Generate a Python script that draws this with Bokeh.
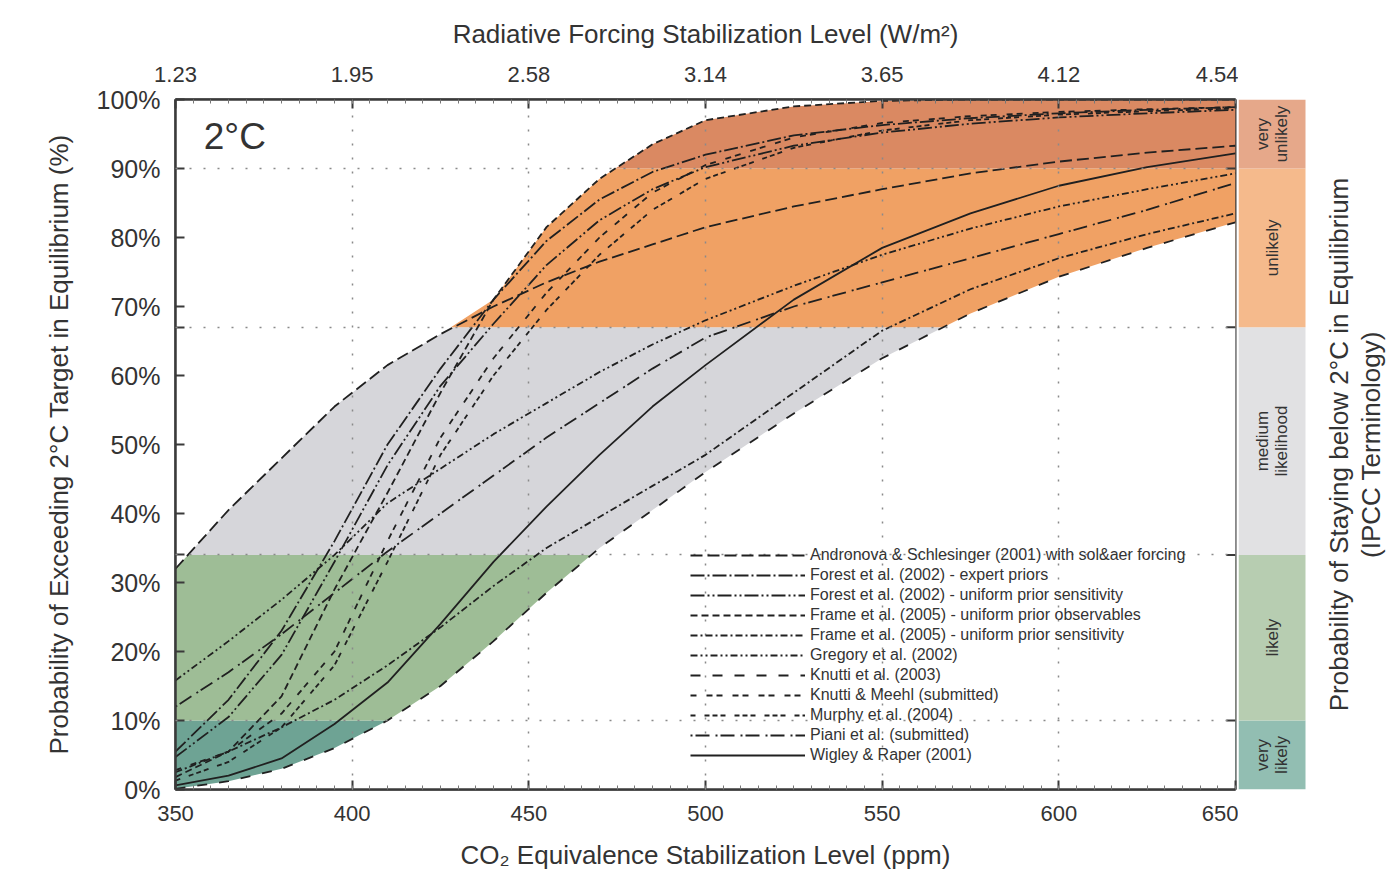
import numpy as np
from bokeh.plotting import figure
from bokeh.models import (Range1d, LinearAxis, FixedTicker, Legend, LegendItem, Label)
from bokeh.layouts import row
from bokeh.embed import file_html
from bokeh.resources import INLINE
from bokeh.core.properties import value

# ---------------- data ----------------
co2_ppm = [350, 365, 380, 395, 410, 425, 440, 455, 470, 485, 500, 525, 550, 575, 600, 625, 650]

andronova_2001 = [32, 40.5, 48, 55.5, 61.5, 66, 70, 73.5, 76.5, 79, 81.5, 84.5, 87, 89.3, 91, 92.3, 93.3]
forest_expert = [5.5, 13, 23, 36, 50, 61, 71, 79.5, 85.5, 89.5, 92, 94.8, 96.3, 97.3, 98, 98.5, 98.9]
forest_uniform = [4.7, 10.5, 19.5, 33, 47, 58.5, 67.5, 76, 82.5, 87, 90.2, 93.3, 95.2, 96.5, 97.4, 98, 98.5]
frame_obs = [1.8, 5.5, 13.5, 29, 43, 57.5, 71, 81.5, 88.5, 93.5, 97, 99, 99.8, 100, 100, 100, 100]
frame_sens = [2.5, 5.5, 9, 13, 18, 23.5, 29.5, 35, 39.5, 44, 48.5, 57.5, 66.5, 72.5, 77, 80.5, 83.5]
gregory_2002 = [15.8, 21.5, 27.5, 34, 41.5, 46.5, 51.5, 56, 60.5, 64.5, 68, 73, 77.5, 81.3, 84.5, 87, 89.3]
knutti_2003 = [0.1, 1.2, 3, 6, 10, 15, 21.5, 28.5, 35, 40.5, 46, 54.5, 62.5, 69, 74.3, 78.5, 82.2]
knutti_meehl = [2.8, 5.5, 11, 20, 36, 51, 62.5, 72, 80, 86.5, 90.5, 94.5, 96.6, 97.6, 98.2, 98.6, 98.9]
murphy_2004 = [1.3, 4, 9, 18, 33, 48.5, 60, 69.5, 77.5, 84, 88.5, 93, 95.5, 97, 97.8, 98.3, 98.7]
piani = [12, 17, 22.5, 28.5, 34.5, 40, 45.5, 51, 56, 61, 65.5, 70, 73.5, 77, 80.5, 84, 87.9]
wigley_2001 = [0.6, 2, 4.5, 9.5, 15.5, 24, 33, 41, 48.5, 55.5, 61.5, 71, 78.5, 83.5, 87.5, 90.2, 92.2]

series_labels = [
    "Andronova & Schlesinger (2001) with sol&aer forcing",
    "Forest et al. (2002) - expert priors",
    "Forest et al. (2002) - uniform prior sensitivity",
    "Frame et al. (2005) - uniform prior observables",
    "Frame et al. (2005) - uniform prior sensitivity",
    "Gregory et al. (2002)",
    "Knutti et al. (2003)",
    "Knutti & Meehl (submitted)",
    "Murphy et al. (2004)",
    "Piani et al. (submitted)",
    "Wigley & Raper (2001)",
]
series_values = [andronova_2001, forest_expert, forest_uniform, frame_obs, frame_sens,
                 gregory_2002, knutti_2003, knutti_meehl, murphy_2004, piani, wigley_2001]

band_lo = [0, 10, 34, 67, 90]
band_hi = [10, 34, 67, 90, 100]
band_names = ["very\nlikely", "likely", "medium\nlikelihood", "unlikely", "very\nunlikely"]

x_ticks = [350, 400, 450, 500, 550, 600, 650]
rf_labels = ["1.23", "1.95", "2.58", "3.14", "3.65", "4.12", "4.54"]
y_ticks = [0, 10, 20, 30, 40, 50, 60, 70, 80, 90, 100]

# ---------------- styles ----------------
dashes = ["12 5", "14 3 2 3", "14 3 2 3 2 3", "7 4", "7 3 2 3", "7 3 2 3 2 3",
          "10 12", "6 10 6 4", "5 9 5 3 5 3", "2 3 14 6", "solid"]
plot_band_colors = ["#6EA394", "#9EBD96", "#D6D6DA", "#F0A164", "#DA8962"]
col_band_colors = ["#92BEB2", "#B7CDB1", "#E1E1E3", "#F5BA8C", "#E6A88A"]
FONT = "Liberation Sans"
TXT = "#333333"
AX = "#3a3a3a"

H = 875
p = figure(width=1238, height=H, x_range=Range1d(350, 650), y_range=Range1d(0, 100),
           toolbar_location=None, output_backend="svg", x_axis_location=None, y_axis_location=None,
           min_border_left=175, min_border_top=99, min_border_bottom=H - 789, min_border_right=3,
           outline_line_color=AX, outline_line_width=2, background_fill_color="white",
           border_fill_color="white")

# bands
p.quad(left=350, right=650, bottom=band_lo, top=band_hi, fill_color=plot_band_colors,
       line_color=None)

# white masks outside the envelope of all curves
arr = np.array(series_values, dtype=float)
upper_env = arr.max(axis=0)
lower_env = arr.min(axis=0)
p.varea(x=co2_ppm, y1=upper_env, y2=100, fill_color="white")
p.varea(x=co2_ppm, y1=0, y2=lower_env, fill_color="white")

items = []
for lab, vals, dsh in zip(series_labels, series_values, dashes):
    r = p.line(co2_ppm, vals, line_color="#202020", line_width=1.8, line_dash=dsh)
    items.append(LegendItem(label=lab, renderers=[r]))

# inward tick marks on the right frame edge at the band boundaries
p.segment(x0=647.4, x1=650, y0=band_hi[:-1], y1=band_hi[:-1], line_color=AX, line_width=2)

legend = Legend(items=items, location=(515, 25), background_fill_alpha=0, border_line_color=None,
                label_text_font=FONT, label_text_font_size="16px", label_text_color=TXT,
                glyph_width=115, glyph_height=18, label_height=18, spacing=2, padding=0, margin=0,
                label_standoff=5)
p.add_layout(legend, "center")

# grid
p.xgrid.ticker = FixedTicker(ticks=[400, 450, 500, 550, 600])
p.ygrid.ticker = FixedTicker(ticks=[10, 34, 67, 90])
for g in (p.xgrid[0], p.ygrid[0]):
    g.grid_line_color = "#8a8a8a"
    g.grid_line_dash = "2 12"
    g.grid_line_width = 1.5
    g.level = "annotation"

def style_axis(ax, size="22px"):
    ax.axis_line_color = AX
    ax.axis_line_width = 2.5
    ax.major_tick_in = 9
    ax.major_tick_out = 0
    ax.major_tick_line_color = AX
    ax.major_tick_line_width = 2
    ax.minor_tick_in = 4
    ax.minor_tick_out = 0
    ax.minor_tick_line_color = "#777777"
    ax.major_label_text_font = FONT
    ax.major_label_text_font_size = size
    ax.major_label_text_color = TXT
    ax.axis_label_text_font = FONT
    ax.axis_label_text_font_size = "26px"
    ax.axis_label_text_font_style = "normal"
    ax.axis_label_text_color = TXT

xb = LinearAxis(ticker=FixedTicker(ticks=x_ticks, minor_ticks=list(range(350, 651, 5))),
                axis_label="CO₂ Equivalence Stabilization Level (ppm)")
style_axis(xb)
xb.major_label_standoff = 16
xb.axis_label_standoff = 16
p.add_layout(xb, "below")

xt = LinearAxis(ticker=FixedTicker(ticks=x_ticks, minor_ticks=list(range(350, 651, 5))),
                axis_label="Radiative Forcing Stabilization Level (W/m²)",
                major_label_overrides={t: l for t, l in zip(x_ticks, rf_labels)})
style_axis(xt)
xt.major_label_standoff = 18
xt.axis_label_standoff = 15
p.add_layout(xt, "above")

yl = LinearAxis(ticker=FixedTicker(ticks=y_ticks, minor_ticks=[34, 67]),
                axis_label="Probability of Exceeding 2°C Target in Equilibrium (%)",
                major_label_overrides={t: f"{t}%" for t in y_ticks})
style_axis(yl, "25px")
yl.minor_tick_in = 9
yl.minor_tick_line_color = AX
yl.minor_tick_line_width = 2
yl.major_label_standoff = 15
yl.axis_label_standoff = 20
p.add_layout(yl, "left")

p.add_layout(Label(x=358, y=94.6, text="2°C", text_font=FONT, text_font_size="37px",
                   text_color=TXT, text_baseline="middle"))

# right-hand likelihood column
BW = 148
bf = figure(width=BW, height=H, x_range=Range1d(0, BW), y_range=p.y_range,
            toolbar_location=None, output_backend="svg", min_border=0,
            min_border_top=99, min_border_bottom=H - 789, outline_line_color=None,
            background_fill_color="white", border_fill_color="white")
bf.axis.visible = False
bf.grid.visible = False
bf.quad(left=0, right=67, bottom=band_lo, top=band_hi, fill_color=col_band_colors, line_color=None)
band_mid = [(a + b) / 2 for a, b in zip(band_lo, band_hi)]
bf.text(x=[33.5] * 5, y=band_mid, text=band_names, angle=np.pi / 2, text_align="center",
        text_baseline="middle", text_font=value(FONT), text_font_size="17px", text_color=TXT,
        text_line_height=1.0)
bf.text(x=[100], y=[50], text=["Probability of Staying below 2°C in Equilibrium"], angle=np.pi / 2,
        text_align="center", text_baseline="middle", text_font=value(FONT),
        text_font_size="26px", text_color=TXT)
bf.text(x=[132], y=[50], text=["(IPCC Terminology)"], angle=np.pi / 2,
        text_align="center", text_baseline="middle", text_font=value(FONT),
        text_font_size="26px", text_color=TXT)

layout = row(p, bf)
html = file_html(layout, INLINE)
open("out.html", "w").write(html)
